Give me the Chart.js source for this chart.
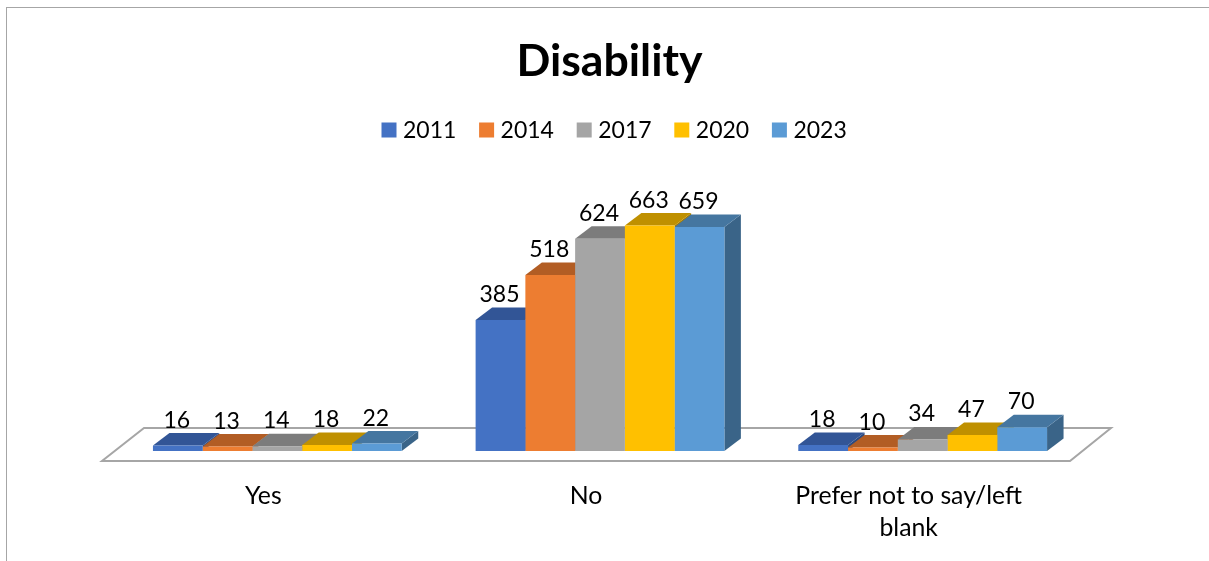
<!DOCTYPE html>
<html>
<head>
<meta charset="utf-8">
<title>Disability</title>
<script src="https://cdn.jsdelivr.net/npm/chart.js@4"></script>
<style>
  html, body { margin: 0; padding: 0; background: #fff; overflow: hidden; }
  #frame {
    position: absolute; left: 6px; top: 7px; width: 1203px; height: 554px;
    box-sizing: border-box; border-left: 1.5px solid #a6a6a6; border-top: 1.5px solid #a6a6a6;
  }
  #frame canvas { display: block; }
</style>
</head>
<body>
<div id="frame"><canvas id="chartCanvas"></canvas></div>
<script>
const categories = ['Yes', 'No', ['Prefer not to say/left', 'blank']];
const years = ['2011', '2014', '2017', '2020', '2023'];
const values2011 = [16, 385, 18];
const values2014 = [13, 518, 10];
const values2017 = [14, 624, 34];
const values2020 = [18, 663, 47];
const values2023 = [22, 659, 70];
const series = [values2011, values2014, values2017, values2020, values2023];

const frontColors = ['#4472c4', '#ed7d31', '#a5a5a5', '#ffc000', '#5b9bd5'];
const topColors = ['#325596', '#b25d24', '#7c7c7c', '#bf9000', '#4576a0'];
const sideColors = ['#2c4a80', '#9a5020', '#6a6a6a', '#a67c00', '#3a6488'];

const FONT = 'Lato, "Open Sans", sans-serif';
const DEPTH_X = 16.5;
const DEPTH_Y = 12.5;

function poly(ctx, pts, color) {
  ctx.beginPath();
  pts.forEach((p, i) => (i ? ctx.lineTo(p[0], p[1]) : ctx.moveTo(p[0], p[1])));
  ctx.closePath();
  ctx.fillStyle = color;
  ctx.fill();
}

// floor plate and the top/side faces go under the bars the library draws
const box3d = {
  id: 'box3d',
  beforeDatasetsDraw(chart) {
    const { ctx, chartArea } = chart;
    const floorBottom = chartArea.bottom + 10;
    const floorTop = chartArea.bottom - 23;
    ctx.save();
    ctx.beginPath();
    ctx.moveTo(chartArea.left - 14, floorBottom);
    ctx.lineTo(chartArea.right - 14, floorBottom);
    ctx.lineTo(chartArea.right + 27, floorTop);
    ctx.lineTo(chartArea.left + 28, floorTop);
    ctx.closePath();
    ctx.strokeStyle = '#a6a6a6';
    ctx.lineWidth = 2;
    ctx.stroke();

    categories.forEach((c, i) => {
      series.forEach((s, d) => {
        const bar = chart.getDatasetMeta(d).data[i];
        const l = bar.x - bar.width / 2;
        const r = bar.x + bar.width / 2;
        poly(ctx, [[r, bar.base], [r + DEPTH_X, bar.base - DEPTH_Y], [r + DEPTH_X, bar.y - DEPTH_Y], [r, bar.y]], sideColors[d]);
        poly(ctx, [[l, bar.y], [l + DEPTH_X, bar.y - DEPTH_Y], [r + DEPTH_X, bar.y - DEPTH_Y], [r, bar.y]], topColors[d]);
      });
    });
    ctx.restore();
  },
  afterDatasetsDraw(chart) {
    const { ctx } = chart;
    ctx.save();
    ctx.font = '23px ' + FONT;
    ctx.fillStyle = '#000';
    ctx.textAlign = 'center';
    ctx.textBaseline = 'alphabetic';
    series.forEach((s, d) => {
      chart.getDatasetMeta(d).data.forEach((bar, i) => {
        ctx.fillText(String(s[i]), bar.x - 1, bar.y - 18);
      });
    });
    ctx.restore();
  },
};

// Excel style legend: the swatch sits closer to its text than Chart.js allows
const legendRow = {
  id: 'legendRow',
  afterDraw(chart) {
    const { ctx } = chart;
    ctx.save();
    ctx.font = '23px ' + FONT;
    ctx.textBaseline = 'middle';
    chart.data.datasets.forEach((ds, d) => {
      const x = 374.5 + d * 97.6;
      ctx.fillStyle = ds.backgroundColor;
      ctx.fillRect(x, 114.5, 15, 15);
      ctx.fillStyle = '#000';
      ctx.fillText(ds.label, x + 21.5, 122.5);
    });
    ctx.restore();
  },
};

new Chart(document.getElementById('chartCanvas'), {
  type: 'bar',
  data: {
    labels: categories,
    datasets: years.map((y, d) => ({
      label: y,
      data: series[d],
      backgroundColor: frontColors[d],
      borderWidth: 0,
    })),
  },
  plugins: [box3d, legendRow],
  options: {
    responsive: true,
    maintainAspectRatio: false,
    animation: false,
    categoryPercentage: 0.771,
    barPercentage: 1,
    layout: { padding: { left: 3 } },
    plugins: {
      legend: { display: false },
      tooltip: { enabled: false },
      title: {
        display: true,
        text: 'Disability',
        color: '#000',
        font: { family: FONT, size: 44.6, weight: 'bold' },
        padding: { top: 27, bottom: 124.5 },
      },
    },
    scales: {
      x: {
        grid: { display: false },
        border: { display: false },
        afterFit(scale) { scale.height = 110; },
        ticks: {
          color: '#000',
          padding: 21,
          labelOffset: -14,
          maxRotation: 0,
          autoSkip: false,
          font: { family: FONT, size: 24.8, lineHeight: 1.29 },
        },
      },
      y: {
        min: 0,
        max: 700,
        grid: { display: false },
        border: { display: false },
        ticks: { display: false },
        afterFit(scale) { scale.width = 106; },
      },
      yRight: {
        position: 'right',
        grid: { display: false },
        border: { display: false },
        ticks: { display: false },
        afterFit(scale) { scale.width = 125; },
      },
    },
  },
});
</script>
</body>
</html>
